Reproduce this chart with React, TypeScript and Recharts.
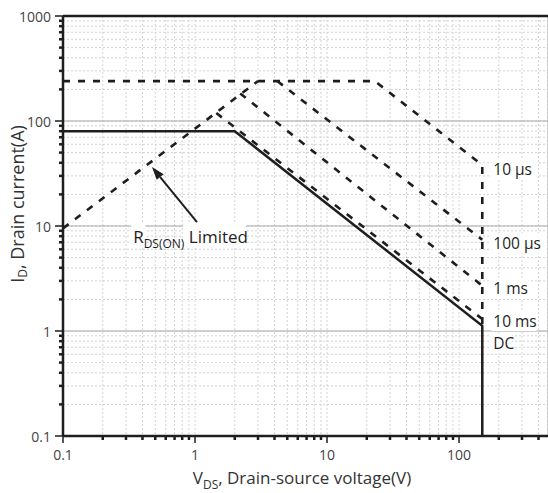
import React from 'react';
import { LineChart, Line, XAxis, YAxis, CartesianGrid, ReferenceLine, ReferenceDot } from 'recharts';

// axes (log-log)
const X_DECADES = [0.1, 1, 10, 100];
const X_LABELS = ['0.1', '1', '10', '100'];
const Y_DECADES = [0.1, 1, 10, 100, 1000];
const Y_LABELS = ['0.1', '1', '10', '100', '1000'];
const MINOR_STEPS = [2, 3, 4, 5, 6, 7, 8, 9];
const X_DOMAIN = [0.1, 472];
const Y_DOMAIN = [0.1, 1000];

// SOA curves: V_DS (V) vs I_D (A)
const DC_V = [0.1, 2, 150, 150];
const DC_I = [80, 80, 1.12, 0.1];
const MS10_V = [1.45, 150];
const MS10_I = [119, 1.3];
const MS1_V = [2.2, 150];
const MS1_I = [183, 2.7];
const US100_V = [4.2, 150];
const US100_I = [240, 7.4];
const US10_V = [0.1, 23, 150, 150];
const US10_I = [240, 240, 38, 1.15];
const RDS_V = [0.1, 3];
const RDS_I = [9.5, 240];

// annotations
const CURVE_NAMES = ['10 µs', '100 µs', '1 ms', '10 ms', 'DC'];
const CURVE_LABEL_V = 150;
const CURVE_LABEL_I = [34.9, 6.9, 2.57, 1.245, 0.765];
const RDS_LABEL_V = 0.34;
const RDS_LABEL_I = 6.9;
const ARROW_V = [1.035, 0.472];
const ARROW_I = [10.9, 36.5];

const INK = '#1e1e1e';
const DASH = '7 8';

const minorsOf = (decades: number[], max: number) =>
  decades
    .flatMap((d) => MINOR_STEPS.map((m) => Number((m * d).toPrecision(3))))
    .filter((v) => v <= max);

const X_TICKS = [...X_DECADES, ...minorsOf(X_DECADES, X_DOMAIN[1])].sort((a, b) => a - b);
const Y_TICKS = [...Y_DECADES, ...minorsOf(Y_DECADES, Y_DOMAIN[1])].sort((a, b) => a - b);

const toPts = (v: number[], i: number[]) => v.map((x, k) => ({ v: x, i: i[k] }));

const XTick = ({ x, y, payload }: any) => {
  const idx = X_DECADES.indexOf(payload.value);
  const major = idx >= 0;
  return (
    <g>
      <line x1={x} x2={x} y1={y} y2={y + (major ? 7 : 4)} stroke={INK} strokeWidth={major ? 1.5 : 2.5} />
      {major && (
        <text x={x} y={y + 24} textAnchor="middle" fontSize={14} fill="#444">
          {X_LABELS[idx]}
        </text>
      )}
    </g>
  );
};

const YTick = ({ x, y, payload }: any) => {
  const idx = Y_DECADES.indexOf(payload.value);
  const major = idx >= 0;
  return (
    <g>
      <line x1={x - (major ? 8 : 4)} x2={x} y1={y} y2={y} stroke={INK} strokeWidth={major ? 1.5 : 2.5} />
      {major && (
        <text x={x - 12} y={y} textAnchor="end" dominantBaseline="central" fontSize={14} fill="#444">
          {Y_LABELS[idx]}
        </text>
      )}
    </g>
  );
};

const XTitle = ({ viewBox }: any) => (
  <text x={viewBox.x + 239} y={viewBox.y + 48} textAnchor="middle" fontSize={17} fill="#333">
    V<tspan fontSize={12} dy={5}>DS</tspan>
    <tspan dy={-5}>, Drain-source voltage(V)</tspan>
  </text>
);

const YTitle = ({ viewBox }: any) => {
  const cx = viewBox.x + 17;
  const cy = viewBox.y + 188;
  return (
    <text x={cx} y={cy} transform={`rotate(-90, ${cx}, ${cy})`} textAnchor="middle" dominantBaseline="central" fontSize={18} fill="#333">
      I<tspan fontSize={12} dy={5}>D</tspan>
      <tspan dy={-5}>, Drain current(A)</tspan>
    </text>
  );
};

const curveLabel = (text: string) => (p: any) => (
  <g>
    <rect x={p.cx + 9} y={p.cy - 10} width={text.length * 8.3 + 4} height={20} fill="#fff" />
    <text x={p.cx + 11} y={p.cy} dominantBaseline="central" fontSize={15.5} fill={INK}>
      {text}
    </text>
  </g>
);

const RdsLabel = ({ cx, cy }: any) => (
  <g>
    <rect x={cx - 2} y={cy - 19} width={14} height={22} fill="#fff" />
    <rect x={cx + 50} y={cy - 20} width={63} height={23} fill="#fff" />
    <text x={cx} y={cy} fontSize={17} fill={INK}>
      R<tspan fontSize={12} dy={5}>DS(ON)</tspan>
      <tspan dy={-5}> Limited</tspan>
    </text>
  </g>
);

const ArrowShape = ({ x1, y1, x2, y2 }: any) => {
  const ang = Math.atan2(y2 - y1, x2 - x1);
  const len = 13;
  const half = 4.5;
  const bx = x2 - len * Math.cos(ang);
  const by = y2 - len * Math.sin(ang);
  const px = -Math.sin(ang) * half;
  const py = Math.cos(ang) * half;
  return (
    <g>
      <line x1={x1} y1={y1} x2={bx} y2={by} stroke={INK} strokeWidth={2} />
      <polygon points={`${x2},${y2} ${bx + px},${by + py} ${bx - px},${by - py}`} fill={INK} />
    </g>
  );
};

export default function App() {
  const dashed = { type: 'linear' as const, stroke: INK, strokeWidth: 2.6, strokeDasharray: DASH, dot: false, isAnimationActive: false };
  return (
    <div style={{ position: 'absolute', left: 0, top: 0, fontFamily: '"Open Sans", sans-serif', background: '#fff' }}>
      <LineChart width={548} height={493} margin={{ top: 16, right: 0, bottom: 0, left: 0 }}>
        <CartesianGrid stroke="#d2d2d2" strokeDasharray="2 2" />
        <CartesianGrid xAxisId="maj" yAxisId="maj" stroke="#a8a8a8" />
        <XAxis
          dataKey="v"
          type="number"
          scale="log"
          domain={X_DOMAIN}
          allowDataOverflow
          ticks={X_TICKS}
          interval={0}
          tickSize={0}
          tickMargin={0}
          tickLine={false}
          tick={<XTick />}
          height={57}
          axisLine={{ stroke: INK, strokeWidth: 2.5 }}
          label={<XTitle />}
        />
        <YAxis
          type="number"
          scale="log"
          domain={Y_DOMAIN}
          allowDataOverflow
          ticks={Y_TICKS}
          interval={0}
          tickSize={0}
          tickMargin={0}
          tickLine={false}
          tick={<YTick />}
          width={63}
          axisLine={{ stroke: INK, strokeWidth: 2.5 }}
          label={<YTitle />}
        />
        <XAxis xAxisId="maj" type="number" scale="log" domain={X_DOMAIN} allowDataOverflow ticks={X_DECADES} hide />
        <YAxis yAxisId="maj" type="number" scale="log" domain={Y_DOMAIN} allowDataOverflow ticks={Y_DECADES} hide />

        <ReferenceLine y={Y_DOMAIN[1]} stroke={INK} strokeWidth={2.5} />

        <Line data={toPts(RDS_V, RDS_I)} dataKey="i" {...dashed} />
        <Line data={toPts(US10_V, US10_I)} dataKey="i" {...dashed} />
        <Line data={toPts(US100_V, US100_I)} dataKey="i" {...dashed} />
        <Line data={toPts(MS1_V, MS1_I)} dataKey="i" {...dashed} />
        <Line data={toPts(MS10_V, MS10_I)} dataKey="i" {...dashed} />
        <Line data={toPts(DC_V, DC_I)} dataKey="i" type="linear" stroke={INK} strokeWidth={2.5} dot={false} isAnimationActive={false} />

        <ReferenceLine
          segment={[
            { x: ARROW_V[0], y: ARROW_I[0] },
            { x: ARROW_V[1], y: ARROW_I[1] },
          ]}
          shape={ArrowShape}
        />
        <ReferenceDot x={RDS_LABEL_V} y={RDS_LABEL_I} r={1} shape={RdsLabel} />
        {CURVE_NAMES.map((name, k) => (
          <ReferenceDot key={name} x={CURVE_LABEL_V} y={CURVE_LABEL_I[k]} r={1} shape={curveLabel(name)} />
        ))}
      </LineChart>
    </div>
  );
}
